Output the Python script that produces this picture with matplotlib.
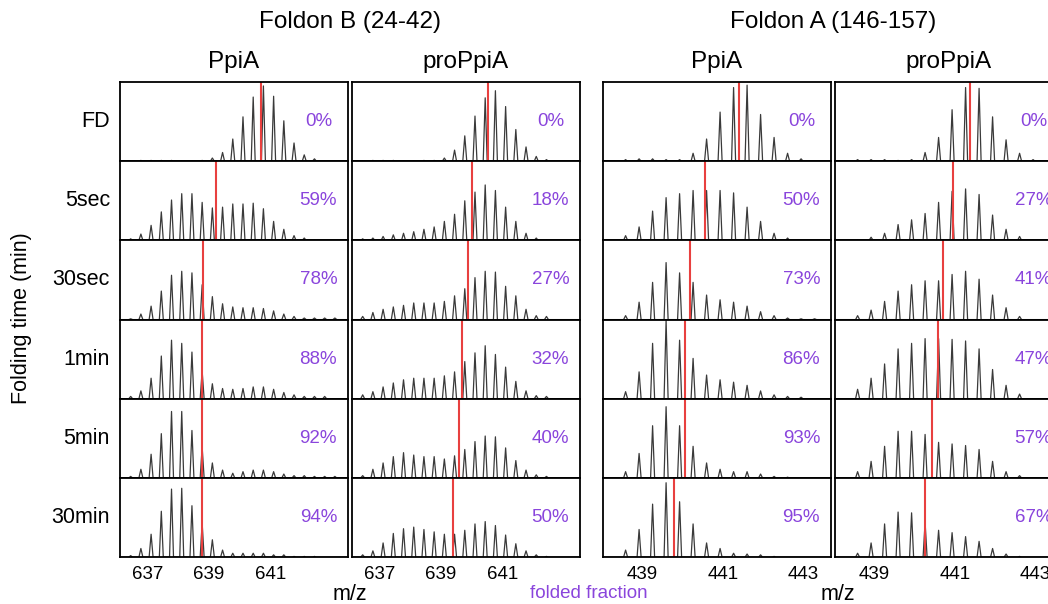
import matplotlib
matplotlib.use("Agg")
import matplotlib.pyplot as plt

plt.rcParams['font.family'] = ['Liberation Sans', 'DejaVu Sans']

times = ["FD", "5sec", "30sec", "1min", "5min", "30min"]
panel_titles = ["PpiA", "proPpiA", "PpiA", "proPpiA"]
group_titles = ["Foldon B (24-42)", "Foldon A (146-157)"]

# first isotope peak (m/z) of each foldon, and isotope spacing for z = 3
mz0_B = 636.43
mz0_A = 438.59
iso_step = 0.3345

# peak heights, % of panel height (rows: FD, 5sec, 30sec, 1min, 5min, 30min)
B_ppiA = [
    [0.5, 1, 1, 1, 1, 0.5, 0.5, 1, 4, 11, 28, 56, 81, 95, 82, 51, 23, 8, 3],
    [2, 8, 19, 36, 51, 59, 59, 48, 41, 42, 46, 46, 47, 40, 24, 14, 6, 3, 1],
    [1, 7, 17, 36, 56, 61, 59, 44, 29, 20, 16, 15, 15, 14, 11, 7, 4, 2, 2, 2, 2],
    [3, 10, 26, 54, 74, 70, 59, 35, 19, 13, 12, 13, 15, 15, 12, 8, 5, 3, 3, 3],
    [2, 11, 30, 56, 84, 84, 60, 39, 19, 10, 6, 8, 10, 10, 8, 5, 3, 3, 2, 2, 2],
    [2, 11, 29, 58, 86, 87, 65, 43, 22, 9, 5, 5, 5, 5, 3, 3, 1, 1, 1],
]
B_pro = [
    [0.5, 1, 1, 1, 0.5, 0.5, 1, 1, 4, 14, 32, 57, 80, 89, 69, 40, 18, 6, 2],
    [2, 3, 5, 7, 9, 11, 14, 17, 24, 33, 50, 61, 70, 63, 42, 24, 9, 3, 1],
    [4, 9, 13, 16, 18, 21, 21, 21, 23, 30, 39, 53, 61, 60, 42, 30, 13, 5, 4],
    [5, 9, 15, 20, 24, 26, 26, 26, 29, 34, 47, 58, 67, 56, 40, 22, 10, 4, 3],
    [3, 11, 19, 27, 32, 29, 27, 27, 24, 28, 36, 46, 53, 52, 38, 22, 10, 4, 2],
    [3, 8, 18, 30, 36, 38, 35, 32, 29, 29, 34, 42, 45, 40, 28, 17, 8, 3, 1],
]
A_ppiA = [
    [2, 3, 3, 2, 2, 10, 28, 62, 93, 96, 59, 30, 10, 3],
    [6, 17, 37, 54, 59, 63, 63, 63, 60, 42, 24, 9, 3],
    [5, 22, 47, 72, 59, 47, 31, 25, 22, 17, 10, 5, 2, 1, 1],
    [9, 34, 70, 99, 74, 51, 30, 24, 21, 17, 10, 5, 3, 2],
    [8, 31, 66, 90, 66, 40, 19, 11, 8, 8, 5, 2, 1],
    [9, 35, 67, 94, 70, 42, 18, 11, 5, 4, 3, 1],
]
A_pro = [
    [2, 2, 2, 1, 2, 11, 30, 65, 93, 92, 56, 27, 10, 2],
    [1, 4, 9, 20, 26, 34, 48, 62, 65, 58, 32, 14, 5, 1],
    [5, 12, 23, 36, 44, 49, 49, 57, 61, 51, 31, 15, 4],
    [12, 26, 44, 63, 70, 76, 76, 75, 73, 63, 37, 17, 6],
    [8, 21, 40, 59, 59, 55, 45, 43, 41, 36, 21, 8, 3],
    [5, 18, 42, 57, 56, 44, 34, 31, 26, 20, 11, 4, 1],
]

# centroid m/z (red line)
cen_B_ppiA = [640.69, 639.24, 638.80, 638.78, 638.78, 638.77]
cen_B_pro = [640.54, 640.02, 639.89, 639.69, 639.58, 639.39]
cen_A_ppiA = [441.39, 440.56, 440.19, 440.06, 440.06, 439.79]
cen_A_pro = [441.37, 440.95, 440.71, 440.59, 440.43, 440.26]

# folded fraction labels
frac_B_ppiA = ["0%", "59%", "78%", "88%", "92%", "94%"]
frac_B_pro = ["0%", "18%", "27%", "32%", "40%", "50%"]
frac_A_ppiA = ["0%", "50%", "73%", "86%", "93%", "95%"]
frac_A_pro = ["0%", "27%", "41%", "47%", "57%", "67%"]

xticks_B = [637, 639, 641]
xticks_A = [439, 441, 443]

columns = [
    (B_ppiA, cen_B_ppiA, frac_B_ppiA, mz0_B, (636.08, 643.55), xticks_B, 0.065),
    (B_pro, cen_B_pro, frac_B_pro, mz0_B, (636.08, 643.55), xticks_B, 0.065),
    (A_ppiA, cen_A_ppiA, frac_A_ppiA, mz0_A, (438.03, 443.68), xticks_A, 0.05),
    (A_pro, cen_A_pro, frac_A_pro, mz0_A, (438.03, 443.68), xticks_A, 0.05),
]

W, H = 1048, 604
fig = plt.figure(figsize=(W / 100, H / 100), dpi=100)

col_left = [120, 352, 603, 835]
col_w = 228
row_top = 82
row_h = 79.2
purple = '#8a45dc'

for c, (data, cen, frac, mz0, xlim, xt, hw) in enumerate(columns):
    for r in range(6):
        y_top = row_top + r * row_h
        ax = fig.add_axes([col_left[c] / W, 1 - (y_top + row_h) / H, col_w / W, row_h / H])
        heights = data[r]
        xs = [xlim[0]]
        ys = [0]
        for i, h in enumerate(heights):
            m = mz0 + i * iso_step
            xs += [m - hw, m, m + hw]
            ys += [0, h, 0]
        xs.append(xlim[1])
        ys.append(0)
        ax.plot(xs, ys, color='#3a3a3a', lw=0.9)
        ax.axvline(cen[r], color='#e8403f', lw=1.5)
        ax.text(0.87, 0.5, frac[r], transform=ax.transAxes, ha='center', va='center',
                color=purple, fontsize=13.5)
        ax.set_xlim(xlim)
        ax.set_ylim(0, 100)
        ax.set_yticks([])
        for s in ax.spines.values():
            s.set_linewidth(1.3)
        if r == 5:
            ax.set_xticks(xt)
            ax.set_xticklabels([str(v) for v in xt], fontsize=13.5)
            ax.tick_params(axis='x', length=0, pad=6)
        else:
            ax.set_xticks([])

# headers
for c, t in enumerate(panel_titles):
    fig.text((col_left[c] + col_w / 2) / W, 1 - 62 / H, t, ha='center', va='center', fontsize=17.5)
fig.text(350 / W, 1 - 22 / H, group_titles[0], ha='center', va='center', fontsize=17.5)
fig.text(833 / W, 1 - 22 / H, group_titles[1], ha='center', va='center', fontsize=17.5)

for r, t in enumerate(times):
    fig.text(110 / W, 1 - (row_top + (r + 0.5) * row_h) / H, t, ha='right', va='center', fontsize=15.5)

fig.text(22 / W, 1 - 318 / H, "Folding time (min)", rotation=90, ha='center', va='center', fontsize=15.5)
fig.text(350 / W, 1 - 595 / H, "m/z", ha='center', va='center', fontsize=15.5)
fig.text(838 / W, 1 - 595 / H, "m/z", ha='center', va='center', fontsize=15.5)
fig.text(589 / W, 1 - 594 / H, "folded fraction", ha='center', va='center', fontsize=13.5, color=purple)

plt.savefig("out.png", dpi=100)
